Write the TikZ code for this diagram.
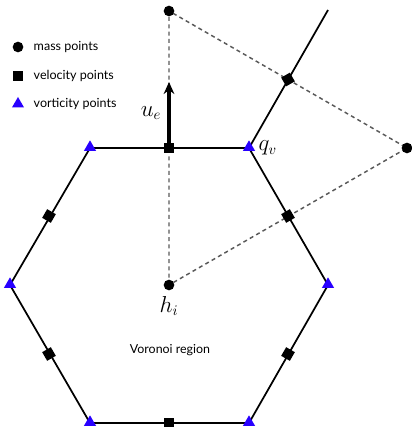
\documentclass[tikz,border=0pt]{standalone}
\usepackage{fontspec}
\setsansfont{Lato}
\usetikzlibrary{shapes.geometric,arrows.meta}
\definecolor{vortblue}{RGB}{40,0,255}
\begin{document}
\begin{tikzpicture}[x=0.75pt,y=-0.75pt,
  edgeline/.style={line width=1.3pt},
  dualline/.style={gray!70!black,line width=1.1pt,dash pattern=on 3pt off 2.5pt},
  masspt/.style={circle,fill=black,inner sep=0pt,minimum size=8pt},
  velpt/.style={rectangle,fill=black,inner sep=0pt,minimum size=7.5pt},
  vortpt/.style={regular polygon,regular polygon sides=3,fill=vortblue,inner sep=0pt,minimum size=10.5pt},
  legtext/.style={font=\sffamily\fontsize{9.4pt}{11pt}\selectfont,anchor=west},
  mathlbl/.style={font=\fontsize{16pt}{19pt}\selectfont}]
\useasboundingbox (0,0) rectangle (411,427);
% hexagon vertices
\coordinate (v1) at (90,148);
\coordinate (v2) at (249,148);
\coordinate (v3) at (328,285);
\coordinate (v4) at (249,423);
\coordinate (v5) at (90,423);
\coordinate (v6) at (10,285);
\coordinate (vend) at (328,10);
% dashed dual lines
\coordinate (hc) at (169,285);
\coordinate (mt) at (169,11);
\coordinate (mr) at (407,148);
\draw[dualline] (hc) -- (mt) -- (mr) -- (hc);
% hexagon edges
\draw[edgeline] (v1) -- (v2) -- (v3) -- (v4) -- (v5) -- (v6) -- cycle;
\draw[edgeline] (v2) -- (vend);
% arrow
\coordinate (ustart) at (169,148);
\coordinate (uend) at (169,82);
\draw[line width=2.6pt,-{Stealth[length=9pt,width=8pt]}] (ustart) -- (uend);
% mass points
\node[masspt] (h) at (hc) {};
\node[masspt] (mtop) at (mt) {};
\node[masspt] (mright) at (mr) {};
% velocity points
\node[velpt] (e1) at (169,148) {};
\node[velpt,rotate=30] (e2) at (288,79.5) {};
\node[velpt,rotate=30] (e3) at (288,216) {};
\node[velpt,rotate=-30] (e4) at (288,354) {};
\node[velpt] (e5) at (169,423) {};
\node[velpt,rotate=30] (e6) at (49,354) {};
\node[velpt,rotate=-30] (e7) at (49,216) {};
% vorticity points
\foreach \v in {v1,v2,v3,v4,v5,v6}{
  \node[vortpt] (t\v) at ([yshift=0.5]\v) {};
}
% labels
\node[mathlbl] (ue) at (151,113) {$u_e$};
\node[mathlbl,anchor=west] (qv) at (254,148) {$q_v$};
\node[mathlbl] (hi) at (169,306) {$h_i$};
\node[font=\sffamily\fontsize{9.3pt}{11pt}\selectfont] (vor) at (170,350) {Voronoi region};
% legend
\node[masspt] (lm) at (18,47) {};
\node[legtext] (lmt) at (29,47) {mass points};
\node[velpt] (lv) at (18,76) {};
\node[legtext] (lvt) at (29,76) {velocity points};
\node[vortpt] (lq) at (18,104) {};
\node[legtext] (lqt) at (29,104) {vorticity points};
\end{tikzpicture}
\end{document}
